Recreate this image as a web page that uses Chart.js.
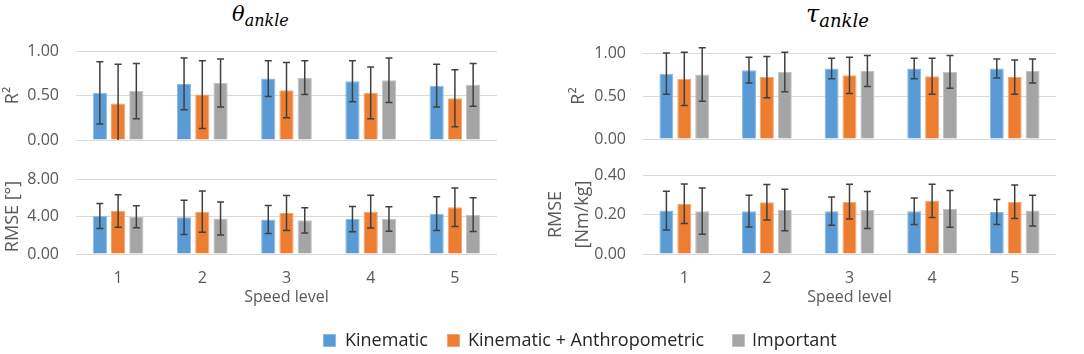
<!DOCTYPE html>
<html>
<head>
<meta charset="utf-8">
<script src="https://cdn.jsdelivr.net/npm/chart.js@4"></script>
<style>
  body { margin: 0; background: #fff; font-family: "Open Sans", sans-serif; }
  #page { position: relative; width: 1084px; height: 354px; overflow: hidden; }
  .box { position: absolute; }
  .ttl { position: absolute; font-family: "DejaVu Serif", serif; font-style: italic; color: #000; white-space: nowrap; }
  .ttl sub { vertical-align: -5px; }
  #legend { position: absolute; left: 0; top: 0; width: 1084px; height: 354px; font-size: 18px; color: #262626; white-space: nowrap; }
  #legend .sw { position: absolute; top: 334px; width: 13px; height: 13px; box-sizing: border-box; }
  #legend .txt { position: absolute; top: 327px; line-height: 24px; }
</style>
</head>
<body>
<div id="page">
  <div class="ttl" style="left:232px;top:2px"><span style="font-size:21px">θ</span><sub style="font-size:16px">ankle</sub></div>
  <div class="ttl" style="left:806px;top:0px"><span style="font-size:24px">τ</span><sub style="font-size:18px">ankle</sub></div>
  <div class="box" style="left:0;top:0;width:540px;height:150px"><canvas id="thetaR2"></canvas></div>
  <div class="box" style="left:0;top:150px;width:540px;height:160px"><canvas id="thetaRmse"></canvas></div>
  <div class="box" style="left:540px;top:0;width:544px;height:150px"><canvas id="tauR2"></canvas></div>
  <div class="box" style="left:540px;top:150px;width:544px;height:160px"><canvas id="tauRmse"></canvas></div>
  <div id="legend"></div>
</div>
<script>
var speedLevels = ["1", "2", "3", "4", "5"];
var seriesNames = ["Kinematic", "Kinematic + Anthropometric", "Important"];
var seriesColors = ["#5B9BD5", "#ED7D31", "#A5A5A5"];
var seriesBorders = ["#8DB9E3", "#F3A574", "#C2C2C2"];

// theta ankle, R2 (mean and SD)
var thetaR2Kin = [0.53, 0.63, 0.69, 0.66, 0.61];
var thetaR2KinSd = [0.35, 0.29, 0.20, 0.23, 0.24];
var thetaR2Ant = [0.41, 0.51, 0.56, 0.53, 0.47];
var thetaR2AntSd = [0.44, 0.38, 0.31, 0.29, 0.32];
var thetaR2Imp = [0.55, 0.64, 0.70, 0.67, 0.62];
var thetaR2ImpSd = [0.31, 0.27, 0.19, 0.25, 0.24];

// theta ankle, RMSE [deg]
var thetaRmseKin = [4.05, 3.91, 3.69, 3.73, 4.30];
var thetaRmseKinSd = [1.33, 1.83, 1.49, 1.35, 1.80];
var thetaRmseAnt = [4.59, 4.52, 4.38, 4.52, 4.99];
var thetaRmseAntSd = [1.74, 2.20, 1.87, 1.74, 2.05];
var thetaRmseImp = [3.98, 3.80, 3.59, 3.73, 4.20];
var thetaRmseImpSd = [1.18, 1.76, 1.34, 1.30, 1.80];

// tau ankle, R2
var tauR2Kin = [0.76, 0.80, 0.82, 0.82, 0.82];
var tauR2KinSd = [0.24, 0.15, 0.12, 0.12, 0.11];
var tauR2Ant = [0.70, 0.72, 0.74, 0.73, 0.72];
var tauR2AntSd = [0.31, 0.24, 0.21, 0.21, 0.20];
var tauR2Imp = [0.75, 0.78, 0.79, 0.78, 0.79];
var tauR2ImpSd = [0.31, 0.23, 0.18, 0.19, 0.14];

// tau ankle, RMSE [Nm/kg]
var tauRmseKin = [0.220, 0.217, 0.217, 0.217, 0.213];
var tauRmseKinSd = [0.098, 0.080, 0.072, 0.067, 0.063];
var tauRmseAnt = [0.255, 0.262, 0.265, 0.269, 0.265];
var tauRmseAntSd = [0.100, 0.090, 0.088, 0.084, 0.085];
var tauRmseImp = [0.217, 0.223, 0.223, 0.228, 0.220];
var tauRmseImpSd = [0.117, 0.105, 0.094, 0.093, 0.078];

var tickColor = "#595959";
var gridColor = "#D9D9D9";

// draws the +/- SD whiskers from the dataset "errors" array
var errorBars = {
  id: "errorBars",
  afterDatasetsDraw: function (chart) {
    var ctx = chart.ctx;
    var y = chart.scales.y;
    var base = y.getPixelForValue(0);
    ctx.save();
    ctx.strokeStyle = "#404040";
    ctx.lineWidth = 1.5;
    chart.data.datasets.forEach(function (ds, i) {
      var meta = chart.getDatasetMeta(i);
      meta.data.forEach(function (bar, j) {
        var v = ds.data[j], e = ds.errors[j];
        var top = y.getPixelForValue(v + e);
        var bot = y.getPixelForValue(v - e);
        var clipped = bot > base;
        if (clipped) bot = base;
        ctx.beginPath();
        ctx.moveTo(bar.x, top);
        ctx.lineTo(bar.x, bot);
        ctx.moveTo(bar.x - 3.5, top);
        ctx.lineTo(bar.x + 3.5, top);
        if (!clipped) {
          ctx.moveTo(bar.x - 3.5, bot);
          ctx.lineTo(bar.x + 3.5, bot);
        }
        ctx.stroke();
      });
    });
    ctx.restore();
  }
};

function makeDatasets(vals, sds) {
  return vals.map(function (v, i) {
    return {
      label: seriesNames[i],
      data: v,
      errors: sds[i],
      backgroundColor: seriesColors[i],
      borderColor: seriesBorders[i],
      borderWidth: 1,
      categoryPercentage: 0.65,
      barPercentage: 0.78
    };
  });
}

function makeChart(id, vals, sds, opt) {
  var ctx = document.getElementById(id).getContext("2d");
  return new Chart(ctx, {
    type: "bar",
    data: { labels: speedLevels, datasets: makeDatasets(vals, sds) },
    plugins: [errorBars],
    options: {
      responsive: true,
      maintainAspectRatio: false,
      animation: false,
      layout: { padding: opt.padding },
      plugins: { legend: { display: false }, tooltip: { enabled: false } },
      scales: {
        x: {
          display: opt.showX,
          grid: { display: false, drawTicks: false },
          border: { display: false },
          ticks: { color: tickColor, font: { family: "Open Sans", size: 16 }, padding: 14.4 },
          title: { display: true, text: "Speed level", color: tickColor, font: { family: "Open Sans", size: 16 }, padding: { top: -14.2, bottom: 0 } }
        },
        y: {
          min: 0,
          max: opt.max,
          afterFit: function (scale) { scale.width = opt.axisWidth; },
          // invisible tick marks keep the labels away from the plot without padding the chart area
          grid: { color: gridColor, drawTicks: true, tickLength: 17, tickColor: "rgba(0,0,0,0)" },
          border: { display: false },
          ticks: {
            stepSize: opt.step,
            color: tickColor,
            padding: 0,
            font: { family: "Open Sans", size: 16 },
            callback: function (v) { return v.toFixed(2); }
          },
          title: {
            display: true,
            text: opt.title,
            color: tickColor,
            font: { family: "Open Sans", size: 18, lineHeight: opt.titleLH || 1.2 },
            padding: { top: opt.titlePad, bottom: 0 }
          }
        }
      }
    }
  });
}

makeChart("thetaR2",
  [thetaR2Kin, thetaR2Ant, thetaR2Imp], [thetaR2KinSd, thetaR2AntSd, thetaR2ImpSd],
  { max: 1, step: 0.5, title: "R²", titlePad: 2, axisWidth: 76, showX: false,
    padding: { top: 51, bottom: 10, left: 0, right: 43 } });

makeChart("thetaRmse",
  [thetaRmseKin, thetaRmseAnt, thetaRmseImp], [thetaRmseKinSd, thetaRmseAntSd, thetaRmseImpSd],
  { max: 8, step: 4, title: "RMSE [°]", titlePad: 2, axisWidth: 76, showX: true,
    padding: { top: 29, bottom: 3, left: 0, right: 43 } });

makeChart("tauR2",
  [tauR2Kin, tauR2Ant, tauR2Imp], [tauR2KinSd, tauR2AntSd, tauR2ImpSd],
  { max: 1, step: 0.5, title: "R²", titlePad: 28, axisWidth: 103, showX: false,
    padding: { top: 53, bottom: 11, left: 0, right: 28 } });

makeChart("tauRmse",
  [tauRmseKin, tauRmseAnt, tauRmseImp], [tauRmseKinSd, tauRmseAntSd, tauRmseImpSd],
  { max: 0.4, step: 0.2, title: ["RMSE", "[Nm/kg]"], titlePad: 2.5, titleLH: 1.5, axisWidth: 103, showX: true,
    padding: { top: 25, bottom: 3, left: 0, right: 28 } });

// legend (swatch and label positions follow the reference)
var legend = document.getElementById("legend");
var swatchX = [323, 447, 732];
var textX = [345, 468, 752];
seriesNames.forEach(function (name, i) {
  var sw = document.createElement("span");
  sw.className = "sw";
  sw.style.left = swatchX[i] + "px";
  sw.style.background = seriesColors[i];
  sw.style.border = "1px solid " + seriesBorders[i];
  legend.appendChild(sw);
  var t = document.createElement("span");
  t.className = "txt";
  t.style.left = textX[i] + "px";
  t.textContent = name;
  legend.appendChild(t);
});
</script>
</body>
</html>
